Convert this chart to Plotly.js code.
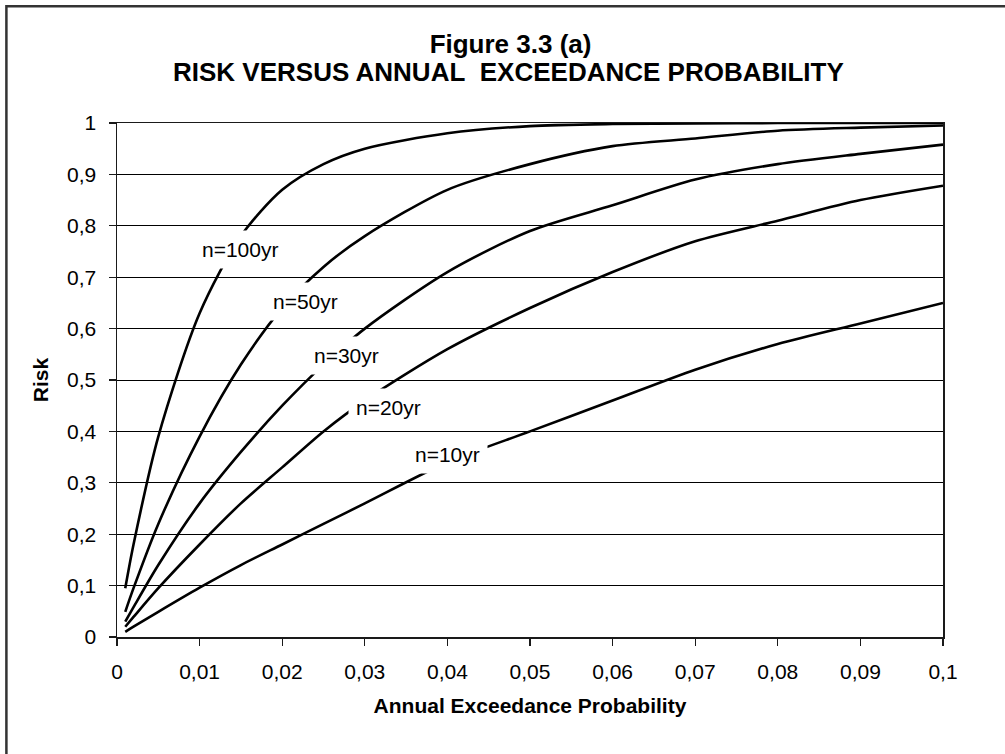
<!DOCTYPE html>
<html>
<head>
<meta charset="utf-8">
<script src="https://cdn.plot.ly/plotly-3.0.1.min.js"></script>
<style>
  html, body { margin: 0; padding: 0; background: #ffffff; }
  #chart { width: 1005px; height: 754px; }
</style>
</head>
<body>
<div id="chart"></div>
<script>
// Annual exceedance probability (x)
var probability = [0.001, 0.002, 0.005, 0.01, 0.015, 0.02, 0.025, 0.03, 0.04, 0.05, 0.06, 0.07, 0.08, 0.09, 0.1];

// Risk values, one array per design life
var risk100 = [0.095, 0.18, 0.39, 0.63, 0.78, 0.87, 0.92, 0.95, 0.98, 0.994, 0.998, 0.999, 1.0, 1.0, 1.0];
var risk50  = [0.049, 0.095, 0.22, 0.39, 0.53, 0.64, 0.72, 0.78, 0.87, 0.92, 0.955, 0.97, 0.985, 0.991, 0.995];
var risk30  = [0.03, 0.058, 0.14, 0.26, 0.36, 0.45, 0.53, 0.60, 0.71, 0.79, 0.84, 0.89, 0.92, 0.94, 0.958];
var risk20  = [0.02, 0.039, 0.095, 0.18, 0.26, 0.33, 0.40, 0.46, 0.56, 0.64, 0.71, 0.77, 0.81, 0.85, 0.878];
var risk10  = [0.01, 0.02, 0.049, 0.096, 0.14, 0.18, 0.22, 0.26, 0.34, 0.40, 0.46, 0.52, 0.57, 0.61, 0.65];

// Curve labels and where they sit (data coordinates)
var seriesNames = ['n=100yr', 'n=50yr', 'n=30yr', 'n=20yr', 'n=10yr'];
var labelX = [0.0149, 0.0228, 0.0278, 0.0329, 0.0400];
var labelY = [0.754, 0.652, 0.548, 0.447, 0.355];

var titleLine1 = 'Figure 3.3 (a)';
var titleLine2 = 'RISK VERSUS ANNUAL\u00a0 EXCEEDANCE PROBABILITY';
var xTitle = 'Annual Exceedance Probability';
var yTitle = 'Risk';

var FONT = 'Liberation Sans, Arial, sans-serif';
var allSeries = [risk100, risk50, risk30, risk20, risk10];

var traces = allSeries.map(function (vals, i) {
  return {
    type: 'scatter',
    mode: 'lines',
    x: probability,
    y: vals,
    name: seriesNames[i],
    line: { color: '#000000', width: 2.6, shape: 'spline', smoothing: 0.8 },
    hoverinfo: 'x+y+name'
  };
});

var annotations = seriesNames.map(function (name, i) {
  return {
    x: labelX[i], y: labelY[i], xref: 'x', yref: 'y',
    text: name, showarrow: false,
    font: { family: FONT, size: 21, color: '#000000' },
    bgcolor: '#ffffff', borderpad: 7,
    xanchor: 'center', yanchor: 'middle'
  };
});

annotations.push({
  x: 0.4734, y: 1.0986, xref: 'paper', yref: 'paper',
  text: '<b>' + titleLine2 + '</b>', showarrow: false,
  font: { family: FONT, size: 26, color: '#000000' },
  xanchor: 'center', yanchor: 'middle'
});

var layout = {
  width: 1005,
  height: 754,
  margin: { l: 117, r: 62, t: 123, b: 117, pad: 0 },
  paper_bgcolor: '#ffffff',
  plot_bgcolor: '#ffffff',
  separators: ', ',
  showlegend: false,
  font: { family: FONT, size: 21, color: '#000000' },
  title: {
    text: '<b>' + titleLine1 + '</b>',
    font: { family: FONT, size: 26, color: '#000000' },
    x: 0.508, xanchor: 'center', xref: 'container',
    y: 0.9415, yanchor: 'middle', yref: 'container'
  },
  xaxis: {
    range: [0, 0.1],
    dtick: 0.01,
    tick0: 0,
    showgrid: false,
    zeroline: false,
    showline: true,
    mirror: true,
    linecolor: '#1a1a1a',
    linewidth: 1.5,
    ticks: 'outside',
    ticklen: 7,
    tickwidth: 1.3,
    tickcolor: '#1a1a1a',
    ticklabelstandoff: 8,
    tickfont: { family: FONT, size: 21, color: '#000000' },
    title: {
      text: '<b>' + xTitle + '</b>',
      font: { family: FONT, size: 21, color: '#000000' },
      standoff: 16
    }
  },
  yaxis: {
    range: [0, 1],
    dtick: 0.1,
    tick0: 0,
    showgrid: true,
    gridcolor: '#000000',
    gridwidth: 1,
    zeroline: false,
    showline: true,
    mirror: true,
    linecolor: '#1a1a1a',
    linewidth: 1.5,
    ticks: 'outside',
    ticklen: 7,
    tickwidth: 1.3,
    tickcolor: '#1a1a1a',
    ticklabelstandoff: 8,
    tickfont: { family: FONT, size: 21, color: '#000000' },
    title: {
      text: '<b>' + yTitle + '</b>',
      font: { family: FONT, size: 21, color: '#000000' },
      standoff: 12
    }
  },
  annotations: annotations,
  shapes: [{
    type: 'rect', xref: 'paper', yref: 'paper',
    x0: -0.1339, x1: 1.3, y0: -0.4, y1: 1.2270,
    line: { color: '#333333', width: 2.5 },
    fillcolor: 'rgba(0,0,0,0)',
    layer: 'below'
  }]
};

Plotly.newPlot('chart', traces, layout, { displayModeBar: false, staticPlot: true });
</script>
</body>
</html>
